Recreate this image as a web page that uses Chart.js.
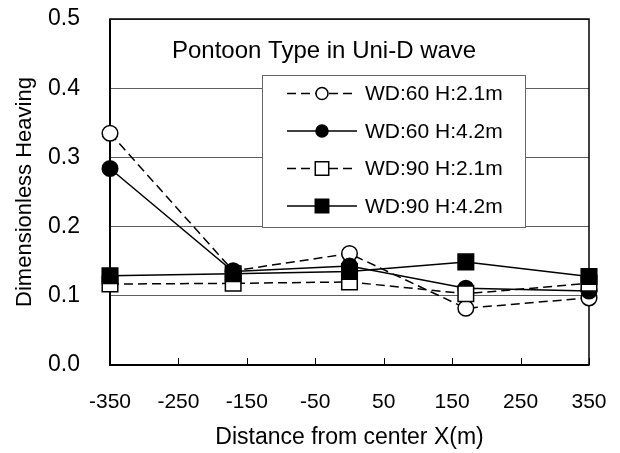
<!DOCTYPE html>
<html>
<head>
<meta charset="utf-8">
<script src="https://cdn.jsdelivr.net/npm/chart.js@4.4.1/dist/chart.umd.min.js"></script>
<style>
    html, body { margin: 0; padding: 0; background: #fff; }
    #wrap { width: 620px; height: 453px; }
</style>
</head>
<body>
<div id="wrap"><canvas id="heaveChart"></canvas></div>
<script>
// Values
const distances = [-350, -170, 0, 170, 350];
const wd60h21 = [0.335, 0.136, 0.161, 0.082, 0.097];
const wd60h42 = [0.284, 0.135, 0.143, 0.111, 0.107];
const wd90h21 = [0.117, 0.118, 0.120, 0.103, 0.118];
const wd90h42 = [0.129, 0.132, 0.135, 0.149, 0.128];
const seriesLabels = ['WD:60 H:2.1m', 'WD:60 H:4.2m', 'WD:90 H:2.1m', 'WD:90 H:4.2m'];
const xTickValues = [-350, -250, -150, -50, 50, 150, 250, 350];
const yTickValues = [0, 0.1, 0.2, 0.3, 0.4, 0.5];
const chartTitle = 'Pontoon Type in Uni-D wave';

const FONT = '"Liberation Sans", Arial, sans-serif';

function toPoints(values) {
    return distances.map(function(x, i) { return { x: x, y: values[i] }; });
}

function makeSeries(label, values, opts, order) {
    return Object.assign({
        label: label,
        data: toPoints(values),
        borderColor: '#000',
        pointBorderColor: '#000',
        borderWidth: 1.5,
        pointBorderWidth: 1.5,
        showLine: true,
        clip: false,
        order: order
    }, opts);
}

const datasets = [
    makeSeries(seriesLabels[0], wd60h21, { borderDash: [9, 5], pointStyle: 'circle', pointRadius: 7.8, pointBackgroundColor: '#fff', legendRadius: 6 }, 3),
    makeSeries(seriesLabels[1], wd60h42, { borderDash: [], pointStyle: 'circle', pointRadius: 7.8, pointBackgroundColor: '#000', legendRadius: 6 }, 2),
    makeSeries(seriesLabels[2], wd90h21, { borderDash: [9, 5], pointStyle: 'rect', pointRadius: 11, pointBackgroundColor: '#fff', legendRadius: 9.5 }, 1),
    makeSeries(seriesLabels[3], wd90h42, { borderDash: [], pointStyle: 'rect', pointRadius: 11, pointBackgroundColor: '#000', legendRadius: 9.5 }, 0)
];

// Plot frame, inward x ticks, inner title and boxed legend
const decorPlugin = {
    id: 'decor',
    beforeDatasetsDraw(chart) {
        const ctx = chart.ctx;
        const a = chart.chartArea;
        const xs = chart.scales.x;
        ctx.save();
        ctx.strokeStyle = '#000';
        ctx.lineWidth = 1;
        xs.ticks.forEach(function(t, i) {
            const px = Math.round(xs.getPixelForTick(i)) + 0.5;
            ctx.beginPath();
            ctx.moveTo(px, a.bottom);
            ctx.lineTo(px, a.bottom - 7);
            ctx.stroke();
        });
        ctx.lineWidth = 1.5;
        ctx.strokeRect(a.left, a.top, a.right - a.left, a.bottom - a.top);
        ctx.lineWidth = 2;
        ctx.beginPath();
        ctx.moveTo(a.left, a.top);
        ctx.lineTo(a.left, a.bottom);
        ctx.lineTo(a.right, a.bottom);
        ctx.stroke();

        // title inside the plot
        ctx.fillStyle = '#000';
        ctx.font = '24px ' + FONT;
        ctx.textAlign = 'left';
        ctx.textBaseline = 'middle';
        ctx.fillText(chartTitle, 172, 51);

        // legend box
        const box = { left: 262, top: 75, right: 525, bottom: 227 };
        ctx.fillStyle = '#fff';
        ctx.fillRect(box.left, box.top, box.right - box.left, box.bottom - box.top);
        ctx.strokeStyle = '#666';
        ctx.lineWidth = 1;
        ctx.strokeRect(box.left + 0.5, box.top + 0.5, box.right - box.left, box.bottom - box.top);

        ctx.font = '21px ' + FONT;
        chart.data.datasets.forEach(function(ds, i) {
            const y = 93.5 + i * 37.5;
            ctx.strokeStyle = '#000';
            ctx.lineWidth = 1.5;
            ctx.setLineDash(ds.borderDash);
            ctx.beginPath();
            ctx.moveTo(287, y);
            ctx.lineTo(357, y);
            ctx.stroke();
            ctx.setLineDash([]);
            ctx.fillStyle = ds.pointBackgroundColor;
            Chart.helpers.drawPoint(ctx, {
                pointStyle: ds.pointStyle,
                radius: ds.legendRadius,
                borderWidth: 1.5,
                rotation: 0
            }, 322, y);
            ctx.fillStyle = '#000';
            ctx.fillText(ds.label, 365, y + 1);
        });
        ctx.restore();
    }
};

new Chart(document.getElementById('heaveChart'), {
    type: 'scatter',
    data: { datasets: datasets },
    options: {
        responsive: true,
        maintainAspectRatio: false,
        animation: false,
        events: [],
        layout: { autoPadding: false, padding: { top: 19, right: 31, left: 0, bottom: 0 } },
        plugins: {
            legend: { display: false },
            tooltip: { enabled: false },
            title: { display: false }
        },
        scales: {
            x: {
                type: 'linear',
                min: -350,
                max: 350,
                afterBuildTicks: function(scale) {
                    scale.ticks = xTickValues.map(function(v) { return { value: v }; });
                },
                afterFit: function(scale) {
                    scale.height = 88;
                    // label overhang is covered by the layout padding
                    scale.paddingLeft = 0;
                    scale.paddingRight = 0;
                },
                grid: { display: false, drawTicks: false },
                border: { display: false },
                ticks: {
                    color: '#000',
                    font: { family: FONT, size: 21 },
                    padding: 25,
                    maxRotation: 0,
                    autoSkip: false
                },
                title: {
                    display: true,
                    text: 'Distance from center X(m)',
                    color: '#000',
                    font: { family: FONT, size: 23 },
                    padding: { top: 2, bottom: 2 }
                }
            },
            y: {
                min: 0,
                max: 0.5,
                afterBuildTicks: function(scale) {
                    scale.ticks = yTickValues.map(function(v) { return { value: v }; });
                },
                afterFit: function(scale) {
                    scale.width = 110;
                    scale.paddingTop = 0;
                    scale.paddingBottom = 0;
                },
                grid: { color: '#5e5e5e', lineWidth: 1, drawTicks: false },
                border: { display: false },
                ticks: {
                    color: '#000',
                    font: { family: FONT, size: 23 },
                    padding: 30,
                    callback: function(v) { return v.toFixed(1); }
                },
                title: {
                    display: true,
                    text: 'Dimensionless Heaving',
                    color: '#000',
                    font: { family: FONT, size: 22 },
                    padding: { top: 12, bottom: 12 }
                }
            }
        }
    },
    plugins: [decorPlugin]
});
</script>
</body>
</html>
